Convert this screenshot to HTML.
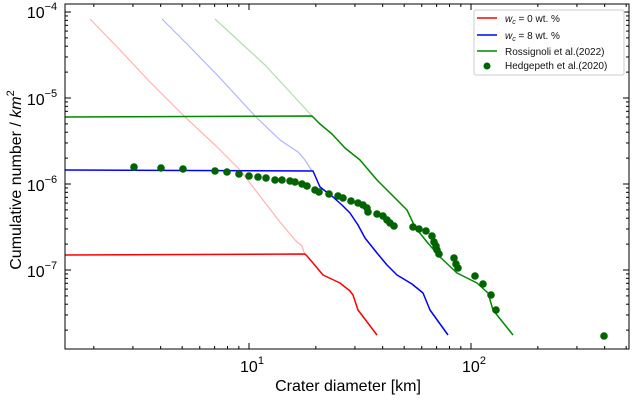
<!DOCTYPE html>
<html><head><meta charset="utf-8"><style>
body{margin:0;background:#fff;width:640px;height:405px;overflow:hidden}
svg{display:block;font-family:"Liberation Sans",sans-serif}
</style></head><body>
<svg id="s" width="640" height="405" viewBox="0 0 640 405" xmlns="http://www.w3.org/2000/svg">
<g id="g"></g>
<rect x="65" y="4" width="564" height="345" fill="none" stroke="#000" stroke-width="1"/>
<g font-size="16" fill="#000">
<text x="42" y="18" text-anchor="middle">10<tspan font-size="11" dy="-8">−4</tspan></text>
<text x="42" y="105" text-anchor="middle">10<tspan font-size="11" dy="-8">−5</tspan></text>
<text x="42" y="191" text-anchor="middle">10<tspan font-size="11" dy="-8">−6</tspan></text>
<text x="42" y="277" text-anchor="middle">10<tspan font-size="11" dy="-8">−7</tspan></text>
<text x="252" y="372" text-anchor="middle">10<tspan font-size="11" dy="-8">1</tspan></text>
<text x="474" y="372" text-anchor="middle">10<tspan font-size="11" dy="-8">2</tspan></text>
<text x="348" y="391" text-anchor="middle">Crater diameter [km]</text>
<text transform="translate(21,180) rotate(-90)" text-anchor="middle">Cumulative number / <tspan font-style="italic">km</tspan><tspan font-size="11" dy="-7">2</tspan></text>
</g>
<g>
<rect x="474" y="10" width="150" height="65" fill="#fff" stroke="#ccc" rx="2"/>
<line x1="477" y1="18" x2="497" y2="18" stroke="#f00" stroke-width="1.5"/>
<line x1="477" y1="35" x2="497" y2="35" stroke="#00f" stroke-width="1.5"/>
<line x1="477" y1="51" x2="497" y2="51" stroke="#080" stroke-width="1.5"/>
<circle cx="487" cy="66" r="3.5" fill="#006400"/>
<g font-size="10" fill="#111">
<text x="505" y="22"><tspan font-style="italic">w</tspan><tspan font-style="italic" font-size="7" dy="2">c</tspan><tspan dy="-2"> = 0 wt. %</tspan></text>
<text x="505" y="39"><tspan font-style="italic">w</tspan><tspan font-style="italic" font-size="7" dy="2">c</tspan><tspan dy="-2"> = 8 wt. %</tspan></text>
<text x="505" y="55">Rossignoli et al.(2022)</text>
<text x="505" y="69">Hedgepeth et al.(2020)</text>
</g>
</g>
</svg>
<script>
const g=document.getElementById('g');let h='';
const X=l=>249+(l-1)*222, Y=l=>12+(-4-l)*86;
for(let e=0;e<=2;e++)for(let k=1;k<10;k++){const x=X(e+Math.log10(k));if(x<65||x>629)continue;const L=k==1?6:3;
h+=`<line x1="${x}" y1="349" x2="${x}" y2="${349-L}" stroke="#000"/><line x1="${x}" y1="4" x2="${x}" y2="${4+L}" stroke="#000"/>`;}
for(let e=-8;e<=-4;e++)for(let k=1;k<10;k++){const y=Y(e+Math.log10(k));if(y<4||y>349)continue;const L=k==1?6:3;
h+=`<line x1="65" y1="${y}" x2="${65+L}" y2="${y}" stroke="#000"/><line x1="629" y1="${y}" x2="${629-L}" y2="${y}" stroke="#000"/>`;}
const P=(pts,c,w,o)=>`<polyline points="${pts.map(p=>p.join(',')).join(' ')}" fill="none" stroke="${c}" stroke-width="${w}" stroke-opacity="${o}" stroke-linejoin="round"/>`;
h+=P([[90,19],[120,50],[150,82],[185,117],[215,145],[240,170],[263,200],[280,222],[295,240],[302,246],[305,255]],'#f00',1.2,0.3);
h+=P([[162,19],[190,47],[220,78],[255,116],[280,140],[298,152],[305,160],[312,171]],'#00f',1.2,0.3);
h+=P([[215,19],[240,42],[265,65],[290,92],[312,116]],'#080',1.2,0.3);
h+=P([[65,255],[305,254],[307,256],[313,263],[323,275],[340,283],[350,291],[353,295],[358,310],[377,335]],'#f00',1.5,1);
h+=P([[65,170],[313,171],[320,187],[333,197],[342,205],[350,213],[358,225],[365,238],[377,253],[387,265],[397,275],[412,284],[423,293],[430,310],[448,335]],'#00f',1.5,1);
h+=P([[65,117],[312,116],[320,124],[332,134],[345,148],[360,160],[377,180],[390,193],[400,203],[407,210],[415,227],[427,242],[440,257],[457,273],[477,283],[488,293],[493,310],[513,335]],'#080',1.5,1);
const D=[[134,167],[161,168],[183,169],[215,171],[227,172],[239,174],[249,176],[258,177],[266,178],[275,180],[282,180],[290,181],[295,182],[302,184],[307,186],[315,190],[319,192],[329,194],[338,196],[343,198],[351,201],[358,203],[363,205],[367,208],[368,212],[377,214],[383,216],[387,220],[390,223],[394,226],[413,227],[419,229],[426,231],[432,236],[434,242],[436,246],[437,250],[439,254],[454,258],[456,264],[458,268],[475,276],[483,284],[491,295],[496,310],[604,336]];
D.forEach(p=>h+=`<circle cx="${p[0]}" cy="${p[1]}" r="3.8" fill="#006400"/>`);
g.innerHTML=h;
</script>
</body></html>
